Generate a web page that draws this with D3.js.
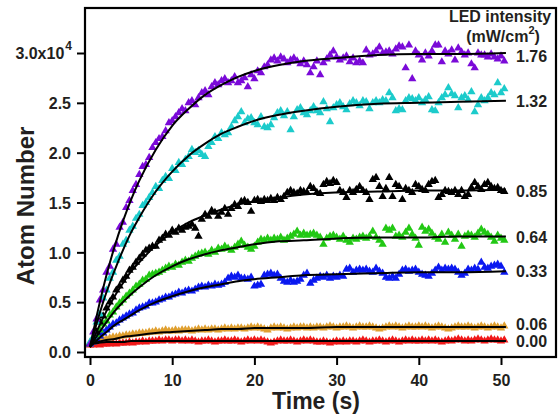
<!DOCTYPE html>
<html><head><meta charset="utf-8">
<script src="https://cdn.jsdelivr.net/npm/d3@7"></script>
<style>body{margin:0;background:#fff}text{font-family:"Liberation Sans",Arial,Helvetica,sans-serif;font-weight:bold;fill:#231f20}</style>
</head><body><svg id="c" width="559" height="415"></svg>
<script>
// LED intensities (mW/cm^2)
const intensities = ["1.76","1.32","0.85","0.64","0.33","0.06","0.00"];
const colors = ["#7a0ad8","#1ccbcb","#000000","#22c814","#0a18f0","#e0a030","#f01818"];
// measurement times: one sample every 0.4 s, 0 ... 50.4 s
const times = d3.range(0, 50.41, 0.4);
// atom number in units of 1e4
const purple = [.08,.20,.33,.52,.62,.80,.86,1.03,1.08,1.25,1.30,1.45,1.52,1.62,1.68,1.78,1.86,1.88,1.95,2.05,2.10,2.14,2.16,2.22,2.30,2.32,2.36,2.40,2.44,2.42,2.50,2.52,2.48,2.55,2.60,2.62,2.58,2.66,2.70,2.68,2.72,2.74,2.70,2.72,2.76,2.70,2.72,2.75,2.66,2.78,2.74,2.82,2.80,2.86,2.88,2.93,2.95,2.92,2.96,2.94,2.90,2.93,2.95,2.92,2.89,2.92,2.88,2.80,2.86,2.92,2.78,2.90,2.94,2.98,3.02,2.96,2.93,2.95,2.97,2.91,2.95,2.90,2.92,2.90,3.03,2.98,2.99,3.02,3.06,3.00,3.01,3.02,2.99,3.04,3.07,3.06,2.85,3.08,2.74,3.02,2.98,2.93,3.00,2.97,3.02,3.08,3.08,2.91,3.02,2.99,3.03,2.93,3.05,3.01,2.98,3.00,2.89,2.85,3.00,2.98,2.98,2.96,2.99,2.96,2.94,2.97,2.92];
const cyan = [.10,.15,.30,.38,.54,.62,.74,.80,.92,.96,1.08,1.12,1.22,1.26,1.34,1.38,1.47,1.50,1.55,1.60,1.66,1.64,1.72,1.76,1.74,1.84,1.82,1.90,1.88,1.93,1.96,2.03,2.00,2.02,1.98,1.96,2.06,2.10,2.16,2.14,2.20,2.18,2.20,2.26,2.32,2.36,2.41,2.30,2.34,2.35,2.30,2.28,2.36,2.26,2.25,2.28,2.35,2.40,2.42,2.37,2.41,2.23,2.36,2.43,2.45,2.40,2.38,2.42,2.46,2.42,2.40,2.51,2.44,2.31,2.45,2.48,2.50,2.46,2.43,2.49,2.52,2.50,2.47,2.52,2.51,2.44,2.50,2.52,2.50,2.53,2.52,2.60,2.55,2.42,2.44,2.43,2.52,2.55,2.54,2.52,2.55,2.50,2.53,2.56,2.43,2.42,2.50,2.55,2.58,2.65,2.59,2.57,2.45,2.55,2.57,2.53,2.61,2.41,2.48,2.55,2.52,2.55,2.60,2.58,2.70,2.60,2.64];
const black = [.09,.14,.20,.30,.36,.44,.50,.55,.62,.66,.72,.76,.82,.85,.90,.94,.98,1.02,1.04,1.06,1.06,1.12,1.14,1.18,1.17,1.22,1.20,1.24,1.22,1.25,1.26,1.28,1.24,1.16,1.33,1.38,1.36,1.42,1.40,1.36,1.40,1.44,1.38,1.44,1.48,1.46,1.51,1.52,1.50,1.41,1.52,1.53,1.51,1.53,1.52,1.54,1.52,1.55,1.53,1.56,1.60,1.62,1.60,1.59,1.62,1.61,1.60,1.66,1.64,1.60,1.59,1.68,1.71,1.69,1.72,1.70,1.62,1.60,1.55,1.62,1.60,1.63,1.66,1.62,1.60,1.53,1.73,1.75,1.66,1.56,1.64,1.75,1.56,1.68,1.66,1.53,1.64,1.62,1.60,1.68,1.66,1.63,1.62,1.68,1.71,1.72,1.55,1.58,1.62,1.61,1.60,1.62,1.58,1.62,1.56,1.58,1.65,1.70,1.66,1.63,1.68,1.70,1.66,1.64,1.65,1.62,1.61];
const green = [.08,.12,.17,.22,.28,.31,.37,.40,.45,.49,.52,.56,.59,.62,.66,.68,.72,.73,.77,.78,.79,.80,.82,.84,.86,.85,.88,.87,.90,.92,.91,.94,.96,.98,.99,1.00,.98,1.02,1.00,1.04,1.03,1.06,1.04,1.02,1.05,1.08,1.11,1.07,1.05,1.03,1.06,1.10,1.13,1.12,1.14,1.12,1.14,1.13,1.15,1.12,1.14,1.16,1.18,1.21,1.17,1.19,1.17,1.18,1.19,1.17,1.15,1.08,1.14,1.16,1.17,1.15,1.13,1.16,1.12,1.10,1.14,1.13,1.15,1.16,1.14,1.16,1.21,1.15,1.12,1.08,1.24,1.22,1.24,1.16,1.17,1.15,1.20,1.24,1.18,1.14,1.07,1.25,1.21,1.23,1.19,1.15,1.13,1.18,1.10,1.20,1.17,1.13,1.18,1.06,1.16,1.18,1.17,1.15,1.19,1.23,1.20,1.18,1.15,1.11,1.17,1.14,1.12];
const blue = [.08,.10,.13,.16,.19,.22,.25,.28,.29,.32,.34,.36,.38,.39,.42,.44,.45,.46,.49,.49,.50,.52,.53,.55,.55,.57,.58,.60,.59,.61,.62,.61,.63,.65,.66,.65,.67,.66,.68,.67,.68,.70,.74,.76,.75,.77,.74,.74,.73,.75,.66,.67,.68,.77,.78,.79,.77,.78,.74,.71,.70,.72,.70,.71,.73,.77,.79,.69,.72,.74,.76,.75,.77,.74,.76,.75,.77,.76,.83,.84,.80,.82,.83,.82,.83,.81,.80,.84,.81,.79,.75,.74,.76,.74,.78,.82,.83,.81,.82,.83,.80,.78,.77,.76,.79,.82,.85,.82,.84,.83,.84,.83,.80,.77,.79,.83,.82,.84,.83,.90,.85,.84,.86,.87,.88,.86,.80];
const orange = [.08,.10,.11,.12,.13,.13,.14,.15,.15,.16,.16,.17,.17,.18,.18,.19,.19,.19,.20,.20,.21,.20,.21,.22,.21,.21,.22,.21,.22,.22,.22,.21,.22,.23,.22,.23,.22,.23,.23,.22,.23,.24,.23,.24,.23,.24,.24,.23,.24,.25,.24,.25,.24,.23,.22,.24,.25,.24,.25,.24,.23,.24,.25,.24,.25,.25,.24,.25,.24,.25,.25,.24,.25,.26,.25,.24,.25,.25,.26,.25,.24,.25,.26,.25,.25,.26,.25,.24,.23,.24,.25,.26,.25,.26,.25,.24,.25,.26,.25,.25,.26,.25,.26,.25,.24,.25,.26,.25,.24,.23,.24,.25,.26,.25,.25,.26,.25,.24,.25,.26,.25,.24,.25,.26,.25,.24,.26];
const red = [.07,.07,.08,.07,.08,.08,.08,.09,.08,.09,.09,.09,.10,.09,.10,.10,.11,.10,.11,.11,.11,.12,.11,.12,.12,.11,.12,.12,.11,.12,.11,.12,.11,.10,.11,.11,.12,.11,.10,.11,.11,.12,.11,.11,.12,.11,.10,.11,.12,.11,.12,.11,.12,.11,.10,.09,.10,.11,.12,.11,.11,.12,.11,.10,.11,.12,.11,.12,.11,.10,.10,.11,.10,.09,.10,.11,.10,.11,.10,.11,.11,.10,.11,.12,.11,.10,.11,.11,.12,.11,.10,.11,.12,.11,.10,.11,.12,.11,.12,.11,.11,.12,.11,.12,.11,.12,.11,.10,.11,.12,.11,.12,.13,.12,.11,.12,.11,.12,.13,.12,.11,.12,.13,.12,.12,.11,.12];
// exponential-fit curves, sampled
const fitTimes = [0,1,2,3,4,5,6,8,10,12,14,16,18,20,23,26,30,35,40,45,50.6];
const fitPurple = [.05,.43,.77,1.06,1.31,1.53,1.72,2.03,2.27,2.44,2.58,2.68,2.76,2.82,2.88,2.92,2.95,2.98,2.99,2.99,3.00];
const fitCyan   = [.05,.34,.60,.82,1.02,1.20,1.35,1.61,1.81,1.97,2.09,2.19,2.26,2.32,2.38,2.42,2.46,2.49,2.50,2.51,2.52];
const fitBlack  = [.05,.24,.41,.56,.69,.81,.90,1.07,1.20,1.30,1.37,1.43,1.48,1.51,1.55,1.58,1.60,1.61,1.62,1.62,1.63];
const fitGreen  = [.05,.18,.30,.41,.50,.58,.65,.77,.86,.93,.98,1.02,1.05,1.08,1.11,1.12,1.14,1.15,1.15,1.16,1.16];
const fitBlue   = [.05,.13,.20,.27,.32,.37,.42,.50,.56,.61,.65,.68,.71,.73,.75,.77,.78,.79,.80,.80,.81];
const fitOrange = [.08,.10,.12,.13,.15,.16,.17,.19,.20,.21,.22,.23,.23,.24,.24,.24,.25,.25,.25,.25,.25];
const fitRed    = [.08,.09,.10,.10,.10,.11,.11,.11,.11,.11,.11,.11,.11,.11,.11,.11,.11,.11,.11,.11,.11];
const labelAt   = [2.97,2.52,1.61,1.15,0.81,0.28,0.11];
const yTicks = [0,0.5,1.0,1.5,2.0,2.5,3.0];
const xTicks = [0,10,20,30,40,50];

const dataSets = [purple,cyan,black,green,blue,orange,red];
const fits = [fitPurple,fitCyan,fitBlack,fitGreen,fitBlue,fitOrange,fitRed];

const svg = d3.select("#c");
const x = d3.scaleLinear().domain([0,50]).range([90,501]);
const y = d3.scaleLinear().domain([0,3]).range([352,53]);
const L=85,R=556,T=8,B=357;

// points (draw low series first)
const tri = d3.symbol().type(d3.symbolTriangle).size(30);
for (let s = dataSets.length-1; s >= 0; s--) {
  svg.append("g").selectAll("path").data(dataSets[s]).join("path")
    .attr("d", tri)
    .attr("transform", (d,i)=>`translate(${x(times[i])},${y(d)})`)
    .attr("fill", colors[s]);
}
// fit lines
const line = d3.line().x((d,i)=>x(fitTimes[i])).y(d=>y(d)).curve(d3.curveMonotoneX);
fits.forEach(f=>{
  svg.append("path").attr("d", line(f)).attr("fill","none").attr("stroke","#000").attr("stroke-width",2);
});

// frame
svg.append("rect").attr("x",L).attr("y",T).attr("width",R-L).attr("height",B-T)
  .attr("fill","none").attr("stroke","#000").attr("stroke-width",2.2);

// y axis
const yAxis = d3.axisLeft(y).tickValues(yTicks).tickSize(8).tickSizeOuter(0)
  .tickFormat(d=> d===3 ? "" : d3.format(".1f")(d));
const ga = svg.append("g").attr("transform",`translate(${L},0)`).call(yAxis);
ga.select(".domain").remove();
ga.selectAll("line").attr("stroke","#000").attr("stroke-width",2);
ga.selectAll("text").attr("font-size",16).attr("x",-14).attr("dy","0.36em");
ga.attr("font-family",null).attr("font-size",null);
// top tick label with exponent
const tt = svg.append("text").attr("x",L-13).attr("y",y(3)).attr("dy","0.36em").attr("text-anchor","end").attr("font-size",16);
tt.append("tspan").text("3.0x10");
tt.append("tspan").text("4").attr("font-size",12).attr("dy",-9).attr("dx",1);

// x axis
const xAxis = d3.axisBottom(x).tickValues(xTicks).tickSize(8).tickSizeOuter(0);
const gx = svg.append("g").attr("transform",`translate(0,${B})`).call(xAxis);
gx.select(".domain").remove();
gx.selectAll("line").attr("stroke","#000").attr("stroke-width",2);
gx.selectAll("text").attr("font-size",16).attr("y",18);
gx.attr("font-family",null).attr("font-size",null);

// titles
svg.append("text").attr("transform","translate(34,206) rotate(-90)").attr("text-anchor","middle")
  .attr("font-size",24).text("Atom Number");
svg.append("text").attr("x",316).attr("y",409).attr("text-anchor","middle").attr("font-size",23).text("Time (s)");

// legend title
svg.append("text").attr("x",500).attr("y",22).attr("text-anchor","middle").attr("font-size",16).text("LED intensity");
const u = svg.append("text").attr("x",503).attr("y",42).attr("text-anchor","middle").attr("font-size",16);
u.append("tspan").text("(mW/cm");
u.append("tspan").text("2").attr("font-size",11).attr("dy",-8);
u.append("tspan").text(")").attr("dy",8);

// intensity labels
intensities.forEach((t,i)=>{
  svg.append("text").attr("x",516).attr("y",y(labelAt[i])).attr("dy","0.36em").attr("font-size",16).text(t);
});
</script></body></html>
